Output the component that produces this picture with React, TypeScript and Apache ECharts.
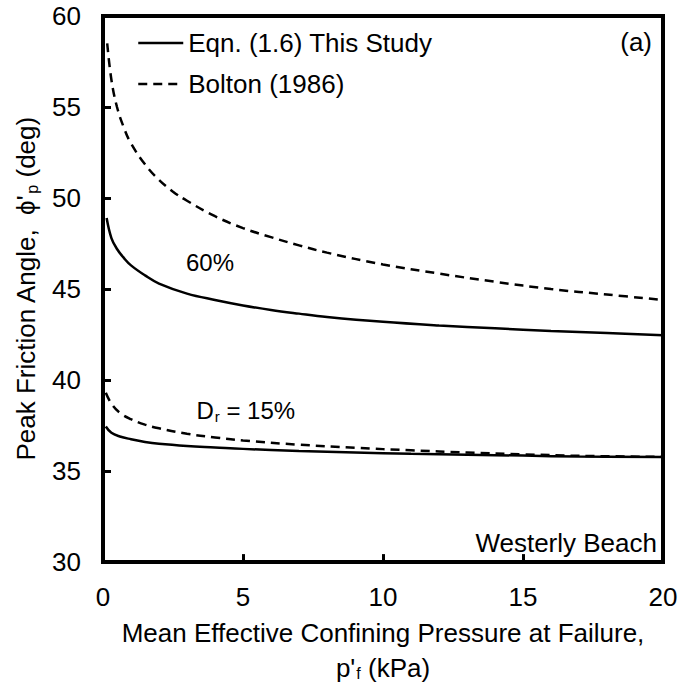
import { useEffect, useRef } from "react";
import * as echarts from "echarts";

// Mean effective confining pressure at failure p'f (kPa) and peak friction angle (deg)
const pressureEqn60 = [0.13, 0.3, 0.5, 0.75, 1, 1.5, 2, 3, 4, 5, 6, 7, 8, 10, 12, 14, 16, 18, 20];
const phiEqn60 = [48.9, 47.8, 47.2, 46.7, 46.3, 45.75, 45.3, 44.75, 44.4, 44.1, 43.85, 43.65, 43.47, 43.2, 43.0, 42.84, 42.7, 42.58, 42.46];

const pressureBolton60 = [0.15, 0.3, 0.5, 0.75, 1, 1.5, 2, 2.5, 3, 4, 5, 6, 7, 8, 10, 12, 14, 16, 18, 20];
const phiBolton60 = [58.5, 56.5, 55.0, 53.85, 53.0, 51.85, 51.0, 50.35, 49.85, 49.0, 48.35, 47.85, 47.4, 47.0, 46.35, 45.85, 45.4, 45.0, 44.7, 44.4];

const pressure15 = [0.1, 0.3, 0.6, 1, 1.5, 2, 3, 4, 5, 7, 9, 11, 13, 15, 17, 20];
const phiEqn15 = [37.45, 37.1, 36.9, 36.75, 36.6, 36.5, 36.38, 36.3, 36.22, 36.1, 36.02, 35.95, 35.9, 35.85, 35.8, 35.78];
const phiBolton15 = [39.3, 38.7, 38.2, 37.85, 37.55, 37.35, 37.05, 36.85, 36.68, 36.45, 36.28, 36.14, 36.02, 35.92, 35.84, 35.78];

const seriesNames = ["Eqn. (1.6) This Study", "Bolton (1986)"];

// Relative-density annotations placed in data coordinates
const densityLabels = ["60%", "{n|D}{s|r}{n| = 15%}"];
const densityLabelX = [3.82, 5.1];
const densityLabelY = [46.45, 38.35];

const FONT = "'Liberation Sans', Arial, Helvetica, sans-serif";

const pairs = (xs: number[], ys: number[]) => xs.map((x, i) => [x, ys[i]]);

const subRich = (size: number, lineHeight: number) => ({
  n: { fontSize: size, fontFamily: FONT, color: "#000", lineHeight },
  s: {
    fontSize: Math.round(size * 0.62),
    fontFamily: FONT,
    color: "#000",
    lineHeight: Math.round(size * 0.62),
    padding: [12, 0, 0, 1],
  },
});

export default function App() {
  const ref = useRef<HTMLDivElement>(null);

  useEffect(() => {
    if (!ref.current) return;
    const chart = echarts.init(ref.current, undefined, { renderer: "svg" });

    const solid = { color: "#000", width: 2.5, type: "solid" as const };
    const dashed = { color: "#000", width: 2.5, type: [9, 6] };

    const lineSeries = (name: string, data: number[][], style: any) => ({
      name,
      type: "line",
      data,
      symbol: "none",
      showSymbol: false,
      smooth: 0.4,
      lineStyle: style,
      itemStyle: { color: "#000" },
      silent: true,
    });

    chart.setOption({
      animation: false,
      backgroundColor: "#fff",
      textStyle: { fontFamily: FONT, color: "#000" },
      grid: {
        left: 103,
        right: 20,
        top: 16,
        bottom: 127,
        show: true,
        borderColor: "#000",
        borderWidth: 4,
      },
      legend: {
        data: seriesNames,
        orient: "vertical",
        left: 137,
        top: 30,
        padding: 0,
        itemWidth: 45,
        itemHeight: 14,
        itemGap: 15,
        itemStyle: { opacity: 0, borderWidth: 0 },
        lineStyle: { width: 2.5 },
        textStyle: { fontSize: 26, fontFamily: FONT, color: "#000", lineHeight: 26 },
        selectedMode: false,
      },
      xAxis: {
        type: "value",
        min: 0,
        max: 20,
        interval: 5,
        name: "{n|Mean Effective Confining Pressure at Failure,}\n{n|p'}{s|f}{n| (kPa)}",
        nameLocation: "middle",
        nameGap: 50,
        nameTextStyle: { lineHeight: 35, rich: subRich(26, 35) },
        axisLine: { show: true, lineStyle: { color: "#000", width: 4 } },
        axisTick: { show: true, inside: true, length: 8, lineStyle: { color: "#000", width: 3 } },
        axisLabel: { fontSize: 26, fontFamily: FONT, color: "#000", margin: 22 },
        splitLine: { show: false },
      },
      yAxis: {
        type: "value",
        min: 30,
        max: 60,
        interval: 5,
        name: "{n|Peak Friction Angle,  \u03D5'}{s|p}{n| (deg)}",
        nameLocation: "middle",
        nameGap: 64,
        nameTextStyle: { rich: subRich(26, 26) },
        axisLine: { show: true, lineStyle: { color: "#000", width: 4 } },
        axisTick: { show: true, inside: true, length: 8, lineStyle: { color: "#000", width: 3 } },
        axisLabel: { fontSize: 26, fontFamily: FONT, color: "#000", margin: 22 },
        splitLine: { show: false },
      },
      series: [
        lineSeries(seriesNames[0], pairs(pressureEqn60, phiEqn60), solid),
        lineSeries(seriesNames[1], pairs(pressureBolton60, phiBolton60), dashed),
        lineSeries(seriesNames[0], pairs(pressure15, phiEqn15), solid),
        lineSeries(seriesNames[1], pairs(pressure15, phiBolton15), dashed),
        {
          name: "labels",
          type: "scatter",
          symbolSize: 1,
          itemStyle: { color: "rgba(0,0,0,0)", opacity: 1 },
          silent: true,
          data: densityLabels.map((text, i) => ({
            value: [densityLabelX[i], densityLabelY[i]],
            label: {
              show: true,
              position: "inside",
              formatter: text,
              fontSize: 24,
              fontFamily: FONT,
              color: "#000",
              opacity: 1,
              rich: subRich(24, 24),
            },
          })),
        },
      ],
      graphic: [
        {
          type: "text",
          right: 31,
          top: 29,
          style: { text: "(a)", fontSize: 26, fontFamily: FONT, fill: "#000" },
        },
        {
          type: "text",
          right: 26,
          top: 530,
          style: { text: "Westerly Beach", fontSize: 26, fontFamily: FONT, fill: "#000" },
        },
      ],
    });

    return () => chart.dispose();
  }, []);

  return (
    <div
      ref={ref}
      style={{ position: "fixed", left: 0, top: 0, width: 683, height: 690, background: "#fff" }}
    />
  );
}
